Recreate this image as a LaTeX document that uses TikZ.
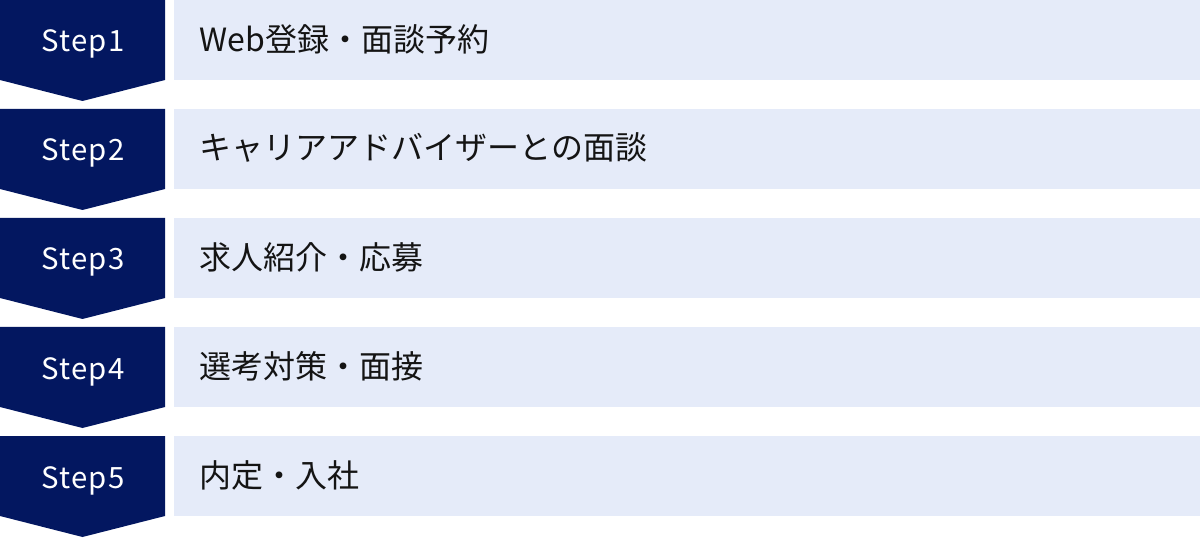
\documentclass[tikz,border=0pt]{standalone}
\usepackage{fontspec}
\setmainfont{Noto Sans CJK JP}
\newfontfamily\tagfont[LetterSpace=4]{Noto Sans CJK JP}
\definecolor{navy}{RGB}{3,23,96}
\definecolor{paleblue}{RGB}{229,235,249}
\definecolor{ink}{RGB}{20,20,20}

\begin{document}
\begin{tikzpicture}[x=0.75pt,y=-0.75pt,
   steptag/.style={anchor=base,text=white,font=\tagfont\fontsize{22}{26}\selectfont},
   steptext/.style={anchor=west,text=ink,font=\fontsize{24}{28}\selectfont}]
   \useasboundingbox (0,0) rectangle (1200,538);
   \foreach \i/\txt in {1/Web登録・面談予約,2/キャリアアドバイザーとの面談,3/求人紹介・応募,4/選考対策・面接,5/内定・入社}{
     \pgfmathsetmacro{\t}{109*(\i-1)}
     \fill[navy] (0,\t) -- (165,\t) -- (165,\t+80) -- (82.5,\t+101) -- (0,\t+80) -- cycle;
     \fill[paleblue] (174,\t) rectangle (1200,\t+80);
     \node[steptag] (tag\i) at (83,\t+52) {Step\i};
     \node[steptext] (label\i) at (195,\t+39) {\txt};
   }
\end{tikzpicture}
\end{document}
